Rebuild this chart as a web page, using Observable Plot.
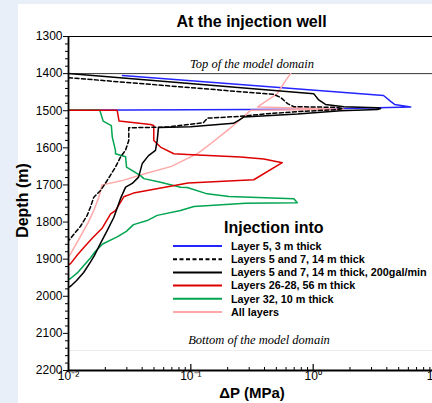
<!DOCTYPE html>
<html><head><meta charset="utf-8">
<script src="https://cdn.jsdelivr.net/npm/d3@7"></script>
<script src="https://cdn.jsdelivr.net/npm/@observablehq/plot@0.6"></script>
<style>
html,body{margin:0;padding:0;width:432px;height:403px;overflow:hidden;background:#e8eff9;font-family:"Liberation Sans",Arial,sans-serif;}
#panel{position:absolute;left:18px;top:4px;width:414px;height:399px;background:#fff;}
#title{position:absolute;left:68px;width:367px;top:12px;text-align:center;font-weight:bold;font-size:16px;line-height:20px;color:#000;}
#chart{position:absolute;left:0;top:30px;}
#legend{position:absolute;left:0;top:0;}
</style></head>
<body>
<div id="panel"></div>
<div id="title">At the injection well</div>
<div id="chart"></div>
<svg id="legend" width="432" height="403"></svg>
<script>
// ---- data: [ΔP (MPa), depth (m)] ----
const layer5 = [[0.0276,1405],[3.76,1459],[4.30,1475],[4.63,1483],[6.26,1490],[1.0,1496],[0.01,1499]];
const layers57 = [[0.01,1411],[0.475,1456],[0.541,1464],[0.618,1481],[0.692,1489],[1.58,1491],[1.74,1494],[1.58,1497],[0.79,1502],[0.424,1508],[0.255,1515],[0.137,1520],[0.127,1532],[0.0645,1544],[0.0311,1546],[0.0311,1580],[0.0292,1607],[0.0266,1625],[0.0242,1652],[0.0207,1688],[0.0183,1715],[0.0161,1733],[0.0151,1760],[0.0142,1782],[0.0125,1812],[0.0111,1832],[0.0104,1844],[0.01,1850]];
const layers57fast = [[0.01,1400],[1.01,1454],[1.11,1471],[1.26,1483],[1.78,1489],[3.34,1492],[3.56,1494],[3.36,1497],[1.68,1500],[0.745,1509],[0.270,1517],[0.246,1526],[0.223,1534],[0.0994,1543],[0.0544,1545],[0.0531,1580],[0.0514,1607],[0.0451,1621],[0.0401,1642],[0.0374,1679],[0.0332,1696],[0.0293,1706],[0.0266,1737],[0.0235,1787],[0.0207,1823],[0.0179,1863],[0.0163,1890],[0.0151,1908],[0.0133,1936],[0.0116,1958],[0.0104,1973],[0.01,1976]];
const layers26_28 = [[0.01,1499],[0.025,1499],[0.0259,1528],[0.0468,1537],[0.0498,1540],[0.0498,1580],[0.0565,1598],[0.0726,1616],[0.0935,1618],[0.255,1625],[0.395,1630],[0.559,1640],[0.327,1686],[0.095,1695],[0.034,1722],[0.0283,1732],[0.0242,1769],[0.0221,1778],[0.0189,1816],[0.0157,1843],[0.0134,1868],[0.0118,1889],[0.0104,1912],[0.01,1915]];
const layer32 = [[0.01,1498],[0.018,1498],[0.0192,1528],[0.0224,1540],[0.0228,1571],[0.0242,1607],[0.0242,1616],[0.0293,1624],[0.0298,1652],[0.0388,1675],[0.0413,1683],[0.0565,1693],[0.0824,1706],[0.0935,1707],[0.136,1724],[0.205,1731],[0.696,1737],[0.741,1748],[0.28,1749],[0.106,1758],[0.0824,1769],[0.0531,1782],[0.044,1796],[0.034,1807],[0.0297,1825],[0.025,1840],[0.019,1859],[0.0165,1880],[0.0151,1897],[0.0133,1918],[0.0118,1937],[0.0104,1952],[0.01,1955]];
const allLayers = [[0.01,1893],[0.0104,1886],[0.0125,1839],[0.0145,1801],[0.0161,1769],[0.0177,1733],[0.0188,1700],[0.0283,1687],[0.042,1670],[0.0695,1650],[0.114,1615],[0.145,1589],[0.199,1553],[0.24,1531],[0.308,1499],[1.78,1496],[0.35,1490],[0.384,1481],[0.509,1454],[0.595,1419],[0.654,1400]];

const seriesNames = ["Layer 5, 3 m thick","Layers 5 and 7, 14 m thick","Layers 5 and 7, 14 m thick, 200gal/min","Layers 26-28, 56 m thick","Layer 32, 10 m thick","All layers"];
const seriesColors = ["#2424ff","#000000","#000000","#dd0000","#00a550","#ffa8a8"];
const seriesDash = [null,"4,2.5",null,null,null,null];
const seriesData = [layer5, layers57, layers57fast, layers26_28, layer32, allLayers];
const drawOrder = [0,5,4,3,1,2];

const yMajor = [1300,1400,1500,1600,1700,1800,1900,2000,2100,2200];
const yMinor = d3.range(1320,2200,20).filter(v => v % 100 !== 0);
const xMajor = [0.01,0.1,1,10];
const xMajorLabels = ["10\u207B\u00B2","10\u207B\u00B9","10\u2070","10\u00B9"];
const xMinor = [0.01,0.1,1].flatMap(d => [2,3,4,5,6,7,8,9].map(k => +(d*k).toPrecision(3)));
const topDomain = 1400, bottomDomain = 2146;

const lineMarks = drawOrder.map(i => Plot.line(seriesData[i], {
  x: d => d[0], y: d => d[1], stroke: seriesColors[i], strokeWidth: 1.5,
  strokeDasharray: seriesDash[i] || undefined, clip: true
}));

const chart = Plot.plot({
  width: 432, height: 373,
  marginLeft: 68, marginRight: -3, marginTop: 6, marginBottom: 33,
  style: {fontFamily: "Liberation Sans, Arial, sans-serif", fontSize: "12px", background: "transparent", overflow: "hidden", color: "#000"},
  x: {type: "log", domain: [0.01, 10], label: null},
  y: {domain: [1300, 2200], reverse: true, label: null},
  marks: [
    Plot.ruleY([bottomDomain], {stroke: "#ececec", strokeWidth: 1}),
    Plot.ruleY([topDomain], {stroke: "#000", strokeWidth: 0.8}),
    Plot.text(["Top of the model domain"], {text: d => d, x: 0.316, y: topDomain, dy: -6, lineAnchor: "bottom", fontFamily: "Liberation Serif, Times New Roman, serif", fontStyle: "italic", fontSize: 12.5}),
    Plot.text(["Bottom of the model domain"], {text: d => d, x: 0.361, y: bottomDomain, dy: -6, lineAnchor: "bottom", fontFamily: "Liberation Serif, Times New Roman, serif", fontStyle: "italic", fontSize: 12.5}),
    ...lineMarks,
    Plot.ruleY([1300], {stroke: "#000", strokeWidth: 1.2}),
    Plot.ruleX([0.01], {stroke: "#000", strokeWidth: 1.8}),
    Plot.ruleY([2200], {stroke: "#000", strokeWidth: 1.8}),
    Plot.axisY(yMajor, {tickSize: 5, tickPadding: 1, fontSize: 12, tickFormat: d => String(d), label: null}),
    Plot.axisY(yMinor, {tickSize: 3, tickFormat: () => "", label: null}),
    Plot.tickX(xMinor, {x: d => d, insetTop: 331, stroke: "#000"}),
    Plot.tickX(xMajor, {x: d => d, insetTop: 328, stroke: "#000", strokeWidth: 1.2}),
    Plot.axisX(xMajor, {tickSize: 0, tickPadding: 1, fontSize: 12, tickFormat: d => xMajorLabels[xMajor.indexOf(d)], label: null}),
    Plot.text(["Depth (m)"], {text: d => d, y: () => 1742, frameAnchor: "left", textAnchor: "middle", lineAnchor: "middle", dx: -46, rotate: -90, fontWeight: "bold", fontSize: 16}),
    Plot.text(["\u0394P (MPa)"], {text: d => d, frameAnchor: "bottom", dy: 27, lineAnchor: "bottom", fontWeight: "bold", fontSize: 15})
  ]
});
document.getElementById("chart").appendChild(chart);

// legend
const lg = d3.select("#legend");
lg.append("text").attr("x", 224).attr("y", 233).attr("font-weight", "bold").attr("font-size", 16)
  .attr("font-family", "Liberation Sans, Arial, sans-serif").text("Injection into");
seriesNames.forEach((name, i) => {
  const y = 246 + i * 13.2;
  lg.append("line").attr("x1", 173).attr("x2", 222).attr("y1", y).attr("y2", y)
    .attr("stroke", seriesColors[i]).attr("stroke-width", 2)
    .attr("stroke-dasharray", seriesDash[i]);
  lg.append("text").attr("x", 231).attr("y", y + 3.8).attr("font-weight", "bold").attr("font-size", 10.8)
    .attr("font-family", "Liberation Sans, Arial, sans-serif").text(name);
});
</script>
</body></html>
